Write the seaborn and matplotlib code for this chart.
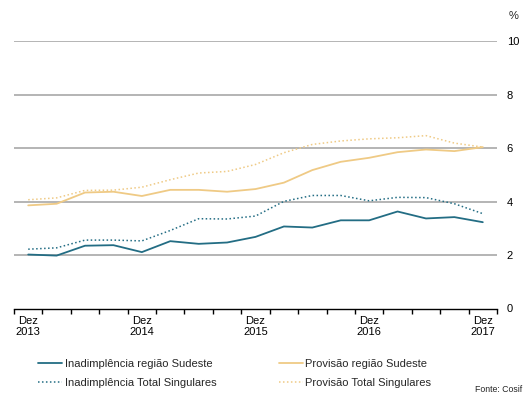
import numpy as np
import pandas as pd
import matplotlib
matplotlib.use("Agg")
import matplotlib.pyplot as plt
import seaborn as sns
from matplotlib.ticker import FixedLocator

sns.set_theme(style="white")
plt.rcParams["font.family"] = ["Liberation Sans", "DejaVu Sans"]

# Quarterly observations, Dez 2013 .. Dez 2017
periods = list(range(17))
tick_positions = [0, 4, 8, 12, 16]
tick_labels = ["Dez\n2013", "Dez\n2014", "Dez\n2015", "Dez\n2016", "Dez\n2017"]

inad_sudeste = [2.02, 1.98, 2.35, 2.37, 2.11, 2.52, 2.42, 2.47, 2.68, 3.07,
                3.03, 3.30, 3.30, 3.63, 3.37, 3.42, 3.23]
inad_total = [2.22, 2.27, 2.56, 2.56, 2.53, 2.92, 3.36, 3.35, 3.46, 4.01,
              4.23, 4.23, 4.03, 4.16, 4.15, 3.92, 3.55]
prov_sudeste = [3.86, 3.92, 4.34, 4.37, 4.21, 4.44, 4.44, 4.37, 4.47, 4.71,
                5.18, 5.49, 5.64, 5.85, 5.95, 5.89, 6.04]
prov_total = [4.07, 4.14, 4.42, 4.43, 4.54, 4.82, 5.07, 5.13, 5.39, 5.83,
              6.14, 6.27, 6.35, 6.39, 6.47, 6.19, 6.04]

teal = "#236d84"
gold = "#efca85"
dotted = (0, (1.0, 1.6))

series = [
    ("Inadimplência região Sudeste", inad_sudeste, teal, "-"),
    ("Inadimplência Total Singulares", inad_total, teal, dotted),
    ("Provisão região Sudeste", prov_sudeste, gold, "-"),
    ("Provisão Total Singulares", prov_total, gold, dotted),
]

fig = plt.figure(figsize=(5.25, 3.95), dpi=100)
ax = fig.add_axes([14 / 525, 1 - 308.5 / 395, (497 - 14) / 525, (308.5 - 41.3) / 395])

# horizontal grid
for yv in [2, 4, 6, 8, 10]:
    ax.axhline(yv, color="#a0a0a0", lw=1.1, zorder=0)

for name, vals, color, ls in series:
    df = pd.DataFrame({"t": periods, "v": vals})
    lw = 1.3 if ls == "-" else 1.1
    sns.lineplot(data=df, x="t", y="v", ax=ax, color=color, lw=lw,
                 linestyle=ls, label=name)

ax.set_xlim(-0.5, 16.5)
ax.set_ylim(0, 10)
ax.set_xlabel("")
ax.set_ylabel("")

for s in ["top", "left", "right"]:
    ax.spines[s].set_visible(False)
ax.spines["bottom"].set_color("black")
ax.spines["bottom"].set_linewidth(1.0)

ax.set_xticks(tick_positions)
ax.set_xticklabels(tick_labels, fontsize=8, linespacing=1.05)
ax.xaxis.set_minor_locator(FixedLocator(np.arange(-0.5, 17, 1)))
ax.tick_params(axis="x", which="major", length=0, pad=5.5, colors="black")
ax.tick_params(axis="x", which="minor", length=3.5, width=1, color="black",
               direction="out", bottom=True)

ax.yaxis.tick_right()
ax.set_yticks([0, 2, 4, 6, 8, 10])
ax.set_yticklabels(["0", "2", "4", "6", "8", "10"], fontsize=8)
ax.tick_params(axis="y", length=0, pad=7, colors="black")
for lbl in ax.get_yticklabels():
    lbl.set_horizontalalignment("left")

fig.text(509 / 525, 1 - 16 / 395, "%", fontsize=8, ha="left", va="center")

handles, labels = ax.get_legend_handles_labels()
ax.get_legend().remove()
fig.legend(handles, labels, ncol=2, loc="upper left",
           bbox_to_anchor=(28 / 525, 1 - 349 / 395), frameon=False,
           fontsize=8, handlelength=2.2, handletextpad=0.2,
           columnspacing=5.6, labelspacing=0.8)

fig.text(522 / 525, 1 - 389 / 395, "Fonte: Cosif", fontsize=6.3,
         ha="right", va="center")

fig.savefig("out.png", dpi=100)
